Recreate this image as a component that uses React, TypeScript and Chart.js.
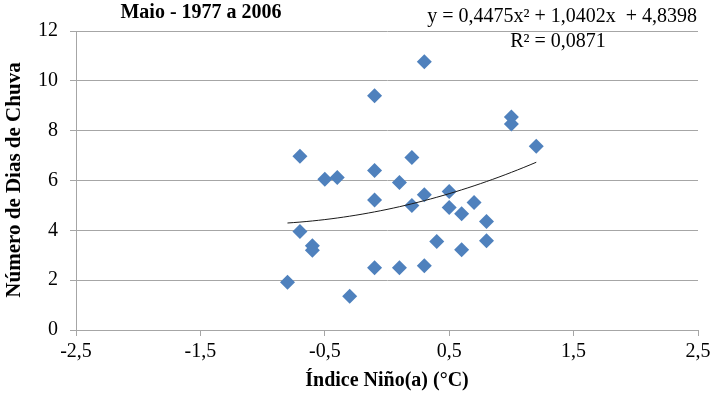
import React, { useEffect, useRef } from "react";
import { Chart, registerables } from "chart.js";

Chart.register(...registerables);

const niñoIndex = [
  -0.8, -0.7, -0.7, -0.6, -0.6, -0.5, -0.4, -0.3, -0.1, -0.1,
  -0.1, -0.1, 0.1, 0.1, 0.2, 0.2, 0.3, 0.3, 0.3, 0.4,
  0.5, 0.5, 0.6, 0.6, 0.7, 0.8, 0.8, 1.0, 1.0, 1.2,
];
const rainDays = [
  1.92, 6.97, 3.95, 3.38, 3.2, 6.05, 6.12, 1.35, 9.4, 6.4,
  5.22, 2.5, 5.92, 2.5, 6.92, 5.0, 10.77, 5.43, 2.58, 3.55,
  5.56, 4.92, 4.67, 3.22, 5.12, 4.35, 3.58, 8.55, 8.27, 7.37,
];
const xTicks = [-2.5, -1.5, -0.5, 0.5, 1.5, 2.5];
const yTicks = [0, 2, 4, 6, 8, 10, 12];
const trendCoefs = [0.4475, 1.0402, 4.8398]; // a, b, c of displayed trendline
const trendRange = [-0.8, 1.2];

const titleText = "Maio - 1977 a 2006";
const equationText = "y = 0,4475x² + 1,0402x  + 4,8398";
const r2Text = "R² = 0,0871";
const xTitle = "Índice Niño(a) (°C)";
const yTitle = "Número de Dias de Chuva";

const SERIF = "'Liberation Serif', 'Times New Roman', serif";
const GRID = "#A6A6A6";

export default function App() {
  const ref = useRef<HTMLCanvasElement | null>(null);

  useEffect(() => {
    if (!ref.current) return;
    const points = niñoIndex.map((x, i) => ({ x, y: rainDays[i] }));
    const trend: { x: number; y: number }[] = [];
    const steps = 40;
    for (let i = 0; i <= steps; i++) {
      const x = trendRange[0] + ((trendRange[1] - trendRange[0]) * i) / steps;
      trend.push({ x, y: trendCoefs[0] * x * x + trendCoefs[1] * x + trendCoefs[2] });
    }

    const textPlugin = {
      id: "texts",
      afterDraw(chart: any) {
        const ctx = chart.ctx as CanvasRenderingContext2D;
        ctx.save();
        ctx.fillStyle = "#000";
        ctx.textBaseline = "middle";
        ctx.font = `bold 20px ${SERIF}`;
        ctx.textAlign = "center";
        ctx.fillText(titleText, 201, 13);
        ctx.font = `20px ${SERIF}`;
        ctx.textAlign = "right";
        ctx.fillText(equationText, 697, 17);
        ctx.textAlign = "center";
        ctx.fillText(r2Text, 558, 42);
        ctx.font = `bold 20px ${SERIF}`;
        ctx.fillText(xTitle, 387, 381);
        ctx.translate(15, 180);
        ctx.rotate(-Math.PI / 2);
        ctx.font = `bold 21px ${SERIF}`;
        ctx.fillText(yTitle, 0, 0);
        ctx.restore();
      },
    };

    const chart = new Chart(ref.current, {
      type: "scatter",
      data: {
        datasets: [
          {
            type: "line",
            data: trend,
            borderColor: "#1a1a1a",
            borderWidth: 1,
            pointRadius: 0,
            fill: false,
            tension: 0,
            order: 0,
          } as any,
          {
            type: "scatter",
            data: points,
            pointStyle: "rectRot",
            radius: 7.5,
            backgroundColor: "#4F81BD",
            borderColor: "#4F81BD",
            borderWidth: 0,
            order: 1,
          } as any,
        ],
      },
      options: {
        responsive: false,
        animation: false,
        devicePixelRatio: 1,
        layout: { padding: { top: 31, right: 13, left: 0, bottom: 0 } },
        plugins: { legend: { display: false }, tooltip: { enabled: false }, title: { display: false } },
        scales: {
          x: {
            type: "linear",
            min: -2.5,
            max: 2.5,
            afterBuildTicks: (s: any) => {
              s.ticks = xTicks.map((v) => ({ value: v }));
            },
            afterFit: (s: any) => {
              s.height = 64;
              s.paddingRight = 0;
              s.paddingLeft = 0;
            },
            ticks: {
              color: "#000",
              font: { family: SERIF, size: 20 },
              padding: 4,
              maxRotation: 0,
              autoSkip: false,
              callback: (v: any) => String(v).replace(".", ","),
            },
            grid: { drawOnChartArea: false, drawTicks: true, tickLength: 6, tickColor: GRID, color: GRID },
            border: { display: true, color: GRID },
          },
          y: {
            type: "linear",
            min: 0,
            max: 12,
            afterBuildTicks: (s: any) => {
              s.ticks = yTicks.map((v) => ({ value: v }));
            },
            afterFit: (s: any) => {
              s.width = 76;
              s.paddingTop = 0;
              s.paddingBottom = 0;
            },
            ticks: {
              color: "#000",
              font: { family: SERIF, size: 20 },
              padding: 12,
              autoSkip: false,
              callback: (v: any) => String(v),
            },
            grid: { color: GRID, tickLength: 6, tickColor: GRID },
            border: { display: true, color: GRID },
          },
        },
      },
      plugins: [textPlugin],
    });
    return () => chart.destroy();
  }, []);

  return (
    <div style={{ position: "absolute", left: 0, top: 0, width: 711, height: 394, background: "#fff" }}>
      <canvas ref={ref} width={711} height={394} style={{ width: 711, height: 394, display: "block" }} />
    </div>
  );
}
